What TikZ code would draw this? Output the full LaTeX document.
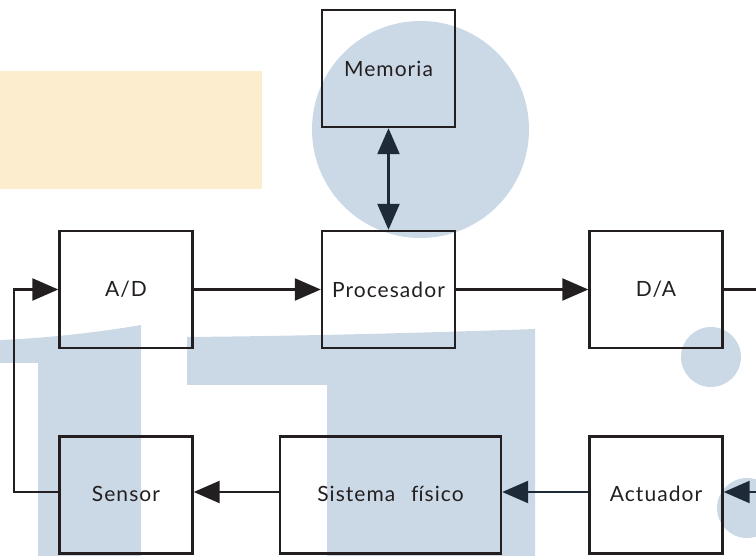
\documentclass[tikz,border=0pt]{standalone}
\usepackage{fontspec}
\setmainfont{Lato}[LetterSpace=5, Ligatures=NoCommon]
\usetikzlibrary{arrows.meta}
\definecolor{ink}{HTML}{231F20}
\definecolor{navy}{HTML}{1E2A37}
\definecolor{paleblue}{HTML}{CBD9E6}
\definecolor{paleyellow}{HTML}{FBEDCE}
\tikzset{
  blockbox/.style={draw=ink, line width=2.4pt, inner sep=0pt, text=ink,
    minimum width=133pt, minimum height=117pt, font=\fontsize{21}{24}\selectfont},
  flow/.style={draw=ink, line width=2.4pt, -{Triangle[length=26pt,width=22pt]}},
  flownavy/.style={draw=navy, line width=2.4pt, -{Triangle[length=26pt,width=22pt]}},
  plain/.style={draw=ink, line width=2.4pt},
  backdrop/.style={fill=paleblue, draw=none}
}
\newcommand{\lowrow}[1]{\raisebox{3pt}{#1}}
\begin{document}
\begin{tikzpicture}[x=1pt, y=-1pt]
\useasboundingbox (0,0) rectangle (756,556);

% decorative background
\fill[paleyellow] (0,71) rectangle (262,189);
\fill[backdrop] (420.5,129.5) circle (108.5);
\fill[backdrop] (711,357) circle (30);
\fill[backdrop] (747,508) circle (30);
\fill[backdrop] (0,340) .. controls (50,338) and (100,332) .. (141,325)
  -- (141,556) -- (38,556) -- (38,363) -- (0,363) -- cycle;
\fill[backdrop] (187,337) .. controls (300,336) and (420,333) .. (535,329)
  -- (535,556) -- (327,556) -- (327,385) -- (187,385) -- cycle;

% blocks
\node[blockbox] (mem) at (388.5,68.5) {Memoria};
\node[blockbox] (proc) at (388.5,289.5) {Procesador};
\node[blockbox] (ad) at (126,289.5) {A/D};
\node[blockbox] (da) at (656,289.5) {D/A};
\node[blockbox] (sen) at (126,495) {\lowrow{Sensor}};
\node[blockbox, minimum width=221pt] (sis) at (390.5,495) {\lowrow{Sistema\hspace{0.45em} f\kern0ptísico}};
\node[blockbox] (act) at (656,495) {\lowrow{Actuador}};

% free ends on the right edge and the feedback corners
\coordinate (daout) at (756,289.5);
\coordinate (actin) at (756,492);
\coordinate (fbl) at (14,492);
\coordinate (fbu) at (14,289.5);

% connectors
\draw[flow] (ad.east) -- (proc.west);
\draw[flow] (proc.east) -- (da.west);
\draw[plain] (da.east) -- (daout);
\draw[flownavy] (actin) -- ([yshift=3pt]act.east);
\draw[flownavy] ([yshift=3pt]act.west) -- ([yshift=3pt]sis.east);
\draw[flow] ([yshift=3pt]sis.west) -- ([yshift=3pt]sen.east);
\draw[flow] ([yshift=3pt]sen.west) -- (fbl) -- (fbu) -- (ad.west);
\draw[draw=navy, line width=2.4pt, {Triangle[length=26pt,width=22pt]}-{Triangle[length=26pt,width=22pt]}] (mem.south) -- (proc.north);
\end{tikzpicture}
\end{document}
